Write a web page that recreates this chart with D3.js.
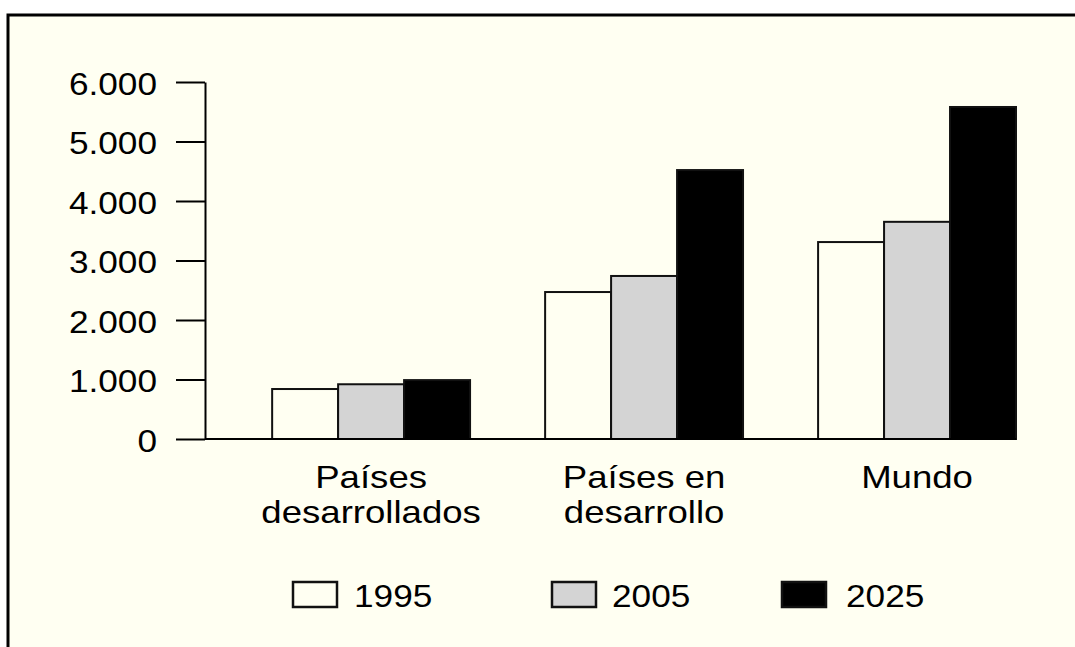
<!DOCTYPE html>
<html>
<head>
<meta charset="utf-8">
<script src="https://cdn.jsdelivr.net/npm/d3@7"></script>
<style>
  html, body { margin: 0; padding: 0; background: #fff; }
  svg { display: block; }
  text { font-family: "Liberation Sans", Arial, sans-serif; fill: #000; }
</style>
</head>
<body>
<svg id="chart" width="1075" height="647"></svg>
<script>
// datos
const groups = ['dev', 'devg', 'world']
const groupLabels = [['Países', 'desarrollados'], ['Países en', 'desarrollo'], ['Mundo']]
const years = ['1995', '2005', '2025']
const values1995 = [840, 2470, 3310]
const values2005 = [920, 2740, 3650]
const values2025 = [990, 4520, 5580]
const yTicks = [0, 1000, 2000, 3000, 4000, 5000, 6000]
const yearColors = ['#fffff2', '#d4d4d4', '#000']

const series = [values1995, values2005, values2025]

const svg = d3.select('#chart')

// fondo con borde
svg.append('rect')
  .attr('x', 8)
  .attr('y', 15)
  .attr('width', 1100)
  .attr('height', 700)
  .style('fill', '#fffff2')
  .style('stroke', '#000')
  .style('stroke-width', 3)

const fmt = d3.formatLocale({ decimal: ',', thousands: '.', grouping: [3], currency: ['', ''] }).format(',')

const x = d3.scaleBand()
  .domain(groups)
  .range([205, 1016])
  .paddingInner(0.275)
  .paddingOuter(0.123)
  .align(1)

const xi = d3.scaleBand()
  .domain(years)
  .range([0, x.bandwidth()])

const y = d3.scaleLinear()
  .domain([0, 6000])
  .range([439, 82])

const g = svg.append('g')

// barras
years.forEach((yr, j) => {
  g.append('g').selectAll('rect')
    .data(series[j])
    .enter()
    .append('rect')
    .attr('x', (d, i) => x(groups[i]) + xi(yr))
    .attr('y', d => y(d))
    .attr('width', xi.bandwidth())
    .attr('height', d => y(0) - y(d))
    .style('fill', yearColors[j])
    .style('stroke', '#111')
    .style('stroke-width', 2)
})

// eje y
const yaxis = d3.axisLeft(y)
  .tickValues(yTicks)
  .tickFormat(fmt)
  .tickSize(29)
  .tickSizeOuter(0)

const yaxisg = g.append('g')
  .attr('transform', 'translate(205,0)')
  .call(yaxis)

yaxisg.select('.domain').style('stroke', '#000').style('stroke-width', 2)
yaxisg.selectAll('.tick line').style('stroke', '#000').style('stroke-width', 2)
yaxisg.selectAll('.tick text')
  .attr('x', null)
  .attr('dy', null)
  .attr('transform', 'translate(-48,12) scale(1.1,1)')
  .style('font-size', '32px')
  .style('font-family', '"Liberation Sans", Arial, sans-serif')
  .style('fill', '#000')

// linea base
g.append('line')
  .attr('x1', 205)
  .attr('x2', x.range()[1])
  .attr('y1', y(0))
  .attr('y2', y(0))
  .style('stroke', '#000')
  .style('stroke-width', 2)

// etiquetas de categoria
const labg = g.append('g').selectAll('g')
  .data(groupLabels)
  .enter()
  .append('g')
  .attr('transform', (d, i) => `translate(${x(groups[i]) + x.bandwidth() / 2}, 488)`)

labg.selectAll('text')
  .data(d => d)
  .enter()
  .append('text')
  .attr('text-anchor', 'middle')
  .attr('transform', (d, k) => `translate(0, ${k * 35}) scale(1.18,1)`)
  .style('font-size', '31px')
  .text(d => d)

// leyenda
const legendX = [293, 552, 782]
const leg = g.append('g').selectAll('g')
  .data(years)
  .enter()
  .append('g')
  .attr('transform', (d, i) => `translate(${legendX[i]}, 582)`)

leg.append('rect')
  .attr('width', 44)
  .attr('height', 25)
  .style('fill', (d, i) => yearColors[i])
  .style('stroke', '#111')
  .style('stroke-width', 2.5)

leg.append('text')
  .attr('transform', (d, i) => `translate(${i === 0 ? 61 : i === 1 ? 60 : 64}, 25) scale(1.1,1)`)
  .style('font-size', '32px')
  .text(d => d)
</script>
</body>
</html>
